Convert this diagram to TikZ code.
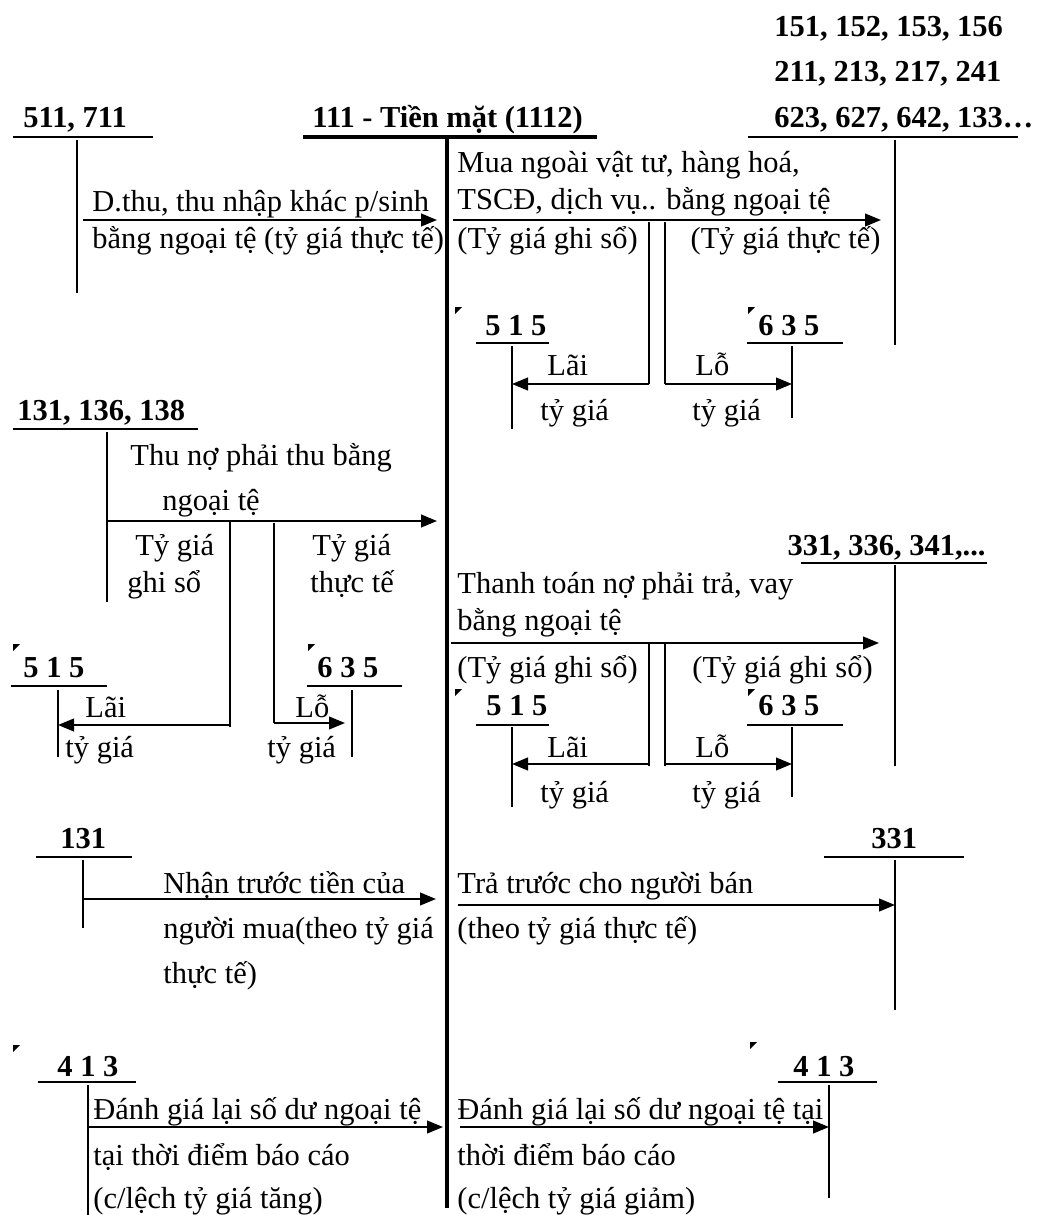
\documentclass[tikz,border=0pt]{standalone}
\usepackage{fontspec}
\setmainfont{Liberation Serif}
\usetikzlibrary{arrows.meta}

\begin{document}
\begin{tikzpicture}[x=0.015cm, y=-0.015cm,
    every node/.style={inner sep=0pt, font=\fontsize{13}{15}\selectfont},
    txt/.style={anchor=base west},
    txtr/.style={anchor=base east},
    acc/.style={anchor=base west, font=\fontsize{13}{15}\selectfont\bfseries},
    tline/.style={line width=0.9pt},
    mainline/.style={line width=2pt},
    arr/.style={line width=0.9pt, -{Triangle[length=2.4mm,width=1.9mm]}},
    corner/.style={fill=black}]
    \useasboundingbox (0,0) rectangle (1036,1215);

    % Main account 111
    \node[acc] (tm) at (312,128) {111 - Tiền mặt (1112)};
    \draw[mainline] (303,137) -- (597,137);
    \draw[mainline] (447,137) -- (447,1208);

    % 511, 711
    \node[acc] (a511) at (23,128) {511, 711};
    \draw[tline] (13,137) -- (153,137);
    \draw[tline] (77,140) -- (77,293);

    % 151 ... 133
    \node[acc] (a151) at (774,37) {151, 152, 153, 156};
    \node[acc] (a211) at (774,82) {211, 213, 217, 241};
    \node[acc] (a623) at (774,128) {623, 627, 642, 133…};
    \draw[tline] (748,137) -- (1018,137);
    \draw[tline] (895,140) -- (895,345);

    % Doanh thu bang ngoai te
    \coordinate (dt-s) at (83,220);
    \coordinate (dt-e) at (437,220);
    \draw[arr] (dt-s) -- (dt-e);
    \node[txt] (dt1) at (92,212) {D.thu, thu nhập khác p/sinh};
    \node[txt] (dt2) at (92,249) {bằng ngoại tệ (tỷ giá thực tế)};

    % Mua ngoai vat tu
    \coordinate (mua-s) at (453,220);
    \coordinate (mua-e) at (881,220);
    \draw[arr] (mua-s) -- (mua-e);
    \node[txt] (mua1) at (457,173) {Mua ngoài vật tư, hàng hoá,};
    \node[txt] (mua2) at (457,210) {TSCĐ, dịch vụ.. bằng ngoại tệ};
    \node[txt] (mua3) at (457,248) {(Tỷ giá ghi sổ)};
    \node[txtr] (mua4) at (881,248) {(Tỷ giá thực tế)};
    \draw[tline] (649,222) -- (649,384);
    \draw[tline] (665,222) -- (665,384);

    % 515 / 635 (mua)
    \fill[corner] (455,307) -- (462,307) -- (455,314) -- cycle;
    \node[acc] (u515) at (485,335) {5 1 5};
    \draw[tline] (476,343) -- (549,343);
    \draw[tline] (512,346) -- (512,429);
    \coordinate (ul-s) at (649,384);
    \coordinate (ul-e) at (512,384);
    \draw[arr] (ul-s) -- (ul-e);
    \node[txt] (ul1) at (547,375) {Lãi};
    \node[txt] (ul2) at (540,420) {tỷ giá};
    \fill[corner] (748,307) -- (755,307) -- (748,314) -- cycle;
    \node[acc] (u635) at (758,335) {6 3 5};
    \draw[tline] (747,343) -- (843,343);
    \draw[tline] (792,346) -- (792,418);
    \coordinate (uo-s) at (665,384);
    \coordinate (uo-e) at (792,384);
    \draw[arr] (uo-s) -- (uo-e);
    \node[txt] (uo1) at (695,375) {Lỗ};
    \node[txt] (uo2) at (692,420) {tỷ giá};

    % 131, 136, 138
    \node[acc] (a131) at (17,420) {131, 136, 138};
    \draw[tline] (13,429) -- (198,429);
    \draw[tline] (107,432) -- (107,602);
    \coordinate (thu-s) at (107,521);
    \coordinate (thu-e) at (437,521);
    \draw[arr] (thu-s) -- (thu-e);
    \node[txt] (thu1) at (130,465) {Thu nợ phải thu bằng};
    \node[txt] (thu2) at (162,510) {ngoại tệ};
    \node[txt] (thu3) at (135,555) {Tỷ giá};
    \node[txt] (thu4) at (127,592) {ghi sổ};
    \node[txt] (thu5) at (312,555) {Tỷ giá};
    \node[txt] (thu6) at (310,592) {thực tế};
    \draw[tline] (230,521) -- (230,727);
    \draw[tline] (274,523) -- (274,723);

    % 515 / 635 (thu no)
    \fill[corner] (13,644) -- (20,644) -- (13,651) -- cycle;
    \node[acc] (l515) at (23,677) {5 1 5};
    \draw[tline] (11,686) -- (107,686);
    \draw[tline] (58,690) -- (58,757);
    \coordinate (ll-s) at (230,725);
    \coordinate (ll-e) at (58,725);
    \draw[arr] (ll-s) -- (ll-e);
    \node[txt] (ll1) at (85,717) {Lãi};
    \node[txt] (ll2) at (65,757) {tỷ giá};
    \fill[corner] (308,644) -- (315,644) -- (308,651) -- cycle;
    \node[acc] (l635) at (317,677) {6 3 5};
    \draw[tline] (307,686) -- (402,686);
    \draw[tline] (352,690) -- (352,757);
    \coordinate (lo-s) at (274,723);
    \coordinate (lo-e) at (345,723);
    \draw[arr] (lo-s) -- (lo-e);
    \node[txt] (lo1) at (295,717) {Lỗ};
    \node[txt] (lo2) at (267,757) {tỷ giá};

    % 331, 336, 341
    \node[txtr, font=\fontsize{13}{15}\selectfont\bfseries] (a331) at (986,555) {331, 336, 341,...};
    \draw[tline] (801,563) -- (987,563);
    \draw[tline] (895,565) -- (895,766);
    \coordinate (tt-s) at (451,643);
    \coordinate (tt-e) at (879,643);
    \draw[arr] (tt-s) -- (tt-e);
    \node[txt] (tt1) at (457,593) {Thanh toán nợ phải trả, vay};
    \node[txt] (tt2) at (457,630) {bằng ngoại tệ};
    \node[txt] (tt3) at (457,677) {(Tỷ giá ghi sổ)};
    \node[txt] (tt4) at (692,677) {(Tỷ giá ghi sổ)};
    \draw[tline] (649,643) -- (649,766);
    \draw[tline] (665,643) -- (665,766);

    % 515 / 635 (thanh toan)
    \fill[corner] (455,689) -- (462,689) -- (455,696) -- cycle;
    \node[acc] (r515) at (486,715) {5 1 5};
    \draw[tline] (476,725) -- (549,725);
    \draw[tline] (512,727) -- (512,807);
    \coordinate (rl-s) at (649,764);
    \coordinate (rl-e) at (512,764);
    \draw[arr] (rl-s) -- (rl-e);
    \node[txt] (rl1) at (547,757) {Lãi};
    \node[txt] (rl2) at (540,802) {tỷ giá};
    \fill[corner] (748,689) -- (755,689) -- (748,696) -- cycle;
    \node[acc] (r635) at (758,715) {6 3 5};
    \draw[tline] (747,725) -- (843,725);
    \draw[tline] (792,727) -- (792,797);
    \coordinate (ro-s) at (665,764);
    \coordinate (ro-e) at (792,764);
    \draw[arr] (ro-s) -- (ro-e);
    \node[txt] (ro1) at (695,757) {Lỗ};
    \node[txt] (ro2) at (692,802) {tỷ giá};

    % 131 ung truoc
    \node[acc] (b131) at (60,848) {131};
    \draw[tline] (36,857) -- (132,857);
    \draw[tline] (83,860) -- (83,928);
    \coordinate (nt-s) at (83,899);
    \coordinate (nt-e) at (436,899);
    \draw[arr] (nt-s) -- (nt-e);
    \node[txt] (nt1) at (163,893) {Nhận trước tiền của};
    \node[txt] (nt2) at (163,938) {người mua(theo tỷ giá};
    \node[txt] (nt3) at (163,983) {thực tế)};

    % 331 tra truoc
    \node[acc] (b331) at (871,848) {331};
    \draw[tline] (824,857) -- (964,857);
    \draw[tline] (895,860) -- (895,1010);
    \coordinate (tr-s) at (458,905);
    \coordinate (tr-e) at (895,905);
    \draw[arr] (tr-s) -- (tr-e);
    \node[txt] (tr1) at (457,893) {Trả trước cho người bán};
    \node[txt] (tr2) at (457,938) {(theo tỷ giá thực tế)};

    % 413 tang
    \fill[corner] (13,1045) -- (20,1045) -- (13,1052) -- cycle;
    \node[acc] (c413) at (57,1076) {4 1 3};
    \draw[tline] (38,1082) -- (136,1082);
    \draw[tline] (88,1085) -- (88,1215);
    \coordinate (dg-s) at (88,1127);
    \coordinate (dg-e) at (443,1127);
    \draw[arr] (dg-s) -- (dg-e);
    \node[txt] (dg1) at (93,1119) {Đánh giá lại số dư ngoại tệ};
    \node[txt] (dg2) at (93,1165) {tại thời điểm báo cáo};
    \node[txt] (dg3) at (93,1208) {(c/lệch tỷ giá tăng)};

    % 413 giam
    \fill[corner] (750,1042) -- (757,1042) -- (750,1049) -- cycle;
    \node[acc] (d413) at (793,1076) {4 1 3};
    \draw[tline] (778,1082) -- (877,1082);
    \draw[tline] (829,1085) -- (829,1198);
    \coordinate (dh-s) at (460,1127);
    \coordinate (dh-e) at (829,1127);
    \draw[arr] (dh-s) -- (dh-e);
    \node[txt] (dh1) at (457,1119) {Đánh giá lại số dư ngoại tệ tại};
    \node[txt] (dh2) at (457,1165) {thời điểm báo cáo};
    \node[txt] (dh3) at (457,1208) {(c/lệch tỷ giá giảm)};
\end{tikzpicture}
\end{document}
